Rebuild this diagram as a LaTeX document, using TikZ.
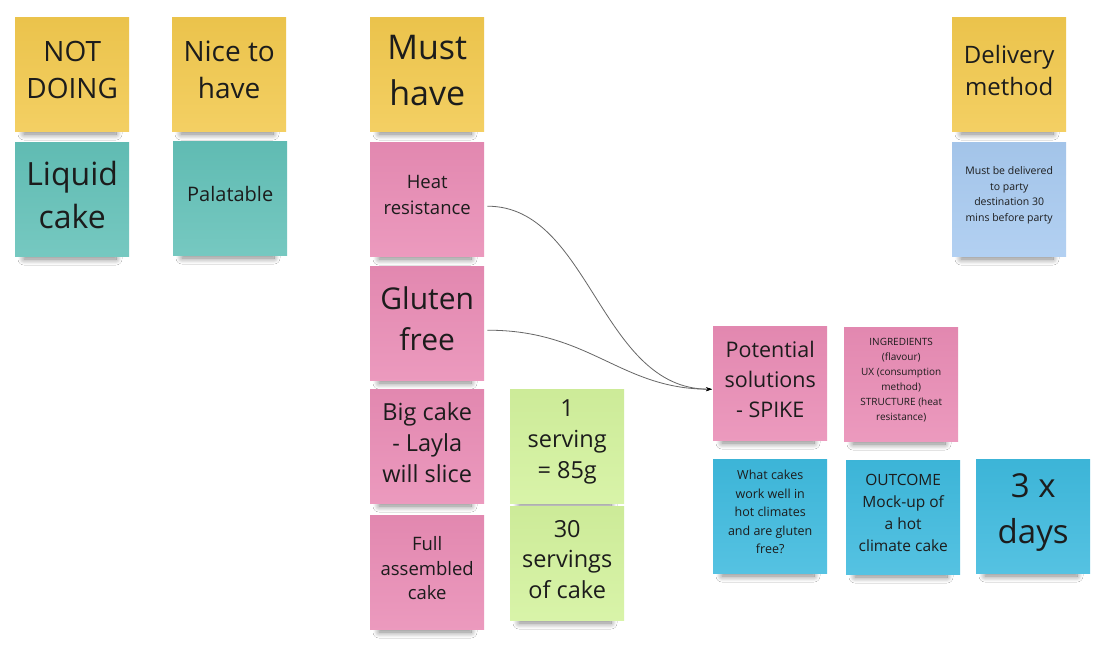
\documentclass[tikz,border=0pt]{standalone}
\usepackage{fontspec}
\setmainfont{Open Sans}
\usetikzlibrary{shadows.blur,arrows.meta}
\definecolor{nyellow}{HTML}{F2C94E}
\definecolor{nteal}{HTML}{63C1B8}
\definecolor{npink}{HTML}{E98CB5}
\definecolor{ngreen}{HTML}{D3F29D}
\definecolor{nblue}{HTML}{A8CAF0}
\definecolor{ncyan}{HTML}{3EBADE}
\definecolor{ntext}{HTML}{1C1C1C}
\tikzset{
  card/.style={anchor=north west, minimum width=114pt, minimum height=114pt, inner sep=0pt, draw=none},
  shadowbox/.style={minimum width=92pt, minimum height=6pt, inner sep=0pt, draw=none,
    blur shadow={shadow xshift=0pt, shadow yshift=-3pt, shadow blur steps=14, shadow blur radius=6pt, shadow opacity=50}},
  notetext/.style={align=center, text=ntext, inner sep=0pt},
  fs/.style 2 args={font=\fontsize{#1}{#2}\selectfont},
  link/.style={draw=black!60, line width=0.8pt, -{Stealth[length=6pt,width=4pt,black]}}
}
\newcommand\stickynote[6]{%
  \node[shadowbox] (#1-s) at ({#2+55},{#3+111}) {};
  \node[card, top color=#4!97!black, bottom color=#4!88!white] (#1) at (#2,#3) {};
  \node[notetext, fs=#5] (#1-t) at ([yshift=4pt]#1.center) {#6};}
\begin{document}
\begin{tikzpicture}[x=1pt,y=-1pt]
\useasboundingbox[fill=white] (0,0) rectangle (1113,646);
% column 1
\stickynote{notdoing}{15}{17}{nyellow}{{28}{37}}{NOT\\DOING}
\stickynote{liquid}{15}{142}{nteal}{{32}{43}}{Liquid\\cake}
% column 2
\stickynote{nice}{172}{17}{nyellow}{{28}{37}}{Nice to\\have}
\stickynote{palatable}{173}{141}{nteal}{{20}{26}}{Palatable}
% must have
\stickynote{must}{370}{17}{nyellow}{{34}{46}}{Must\\have}
\stickynote{heat}{370}{142}{npink}{{18.5}{26}}{Heat\\resistance}
\stickynote{gluten}{370}{266}{npink}{{30}{41}}{Gluten\\free}
\stickynote{big}{370}{389}{npink}{{23.5}{31}}{Big cake\\- Layla\\will slice}
\stickynote{full}{370}{515}{npink}{{18.5}{24.5}}{Full\\assembled\\cake}
\stickynote{serving}{510}{389}{ngreen}{{23.5}{31}}{1\\serving\\= 85g}
\stickynote{thirty}{510}{506}{ngreen}{{23.5}{30.5}}{30\\servings\\of cake}
% delivery
\stickynote{delivery}{952}{17}{nyellow}{{24}{32}}{Delivery\\method}
\stickynote{deliver}{952}{142}{nblue}{{10.5}{15.5}}{Must be delivered\\to party\\destination 30\\mins before party}
% spike
\stickynote{spike}{713}{326}{npink}{{21.5}{30}}{Potential\\solutions\\- SPIKE}
\stickynote{ingr}{844}{327}{npink}{{10}{15}}{INGREDIENTS\\(flavour)\\UX (consumption\\method)\\STRUCTURE (heat\\resistance)}
\stickynote{what}{713}{459}{ncyan}{{12.5}{18.5}}{What cakes\\work well in\\hot climates\\and are gluten\\free?}
\stickynote{outcome}{846}{460}{ncyan}{{15.5}{22}}{OUTCOME\\Mock-up of\\a hot\\climate cake}
\stickynote{days}{976}{459}{ncyan}{{33}{46}}{3 x\\days}
% connectors
\coordinate (hs) at ([shift={(3pt,-7pt)}]heat.east);
\coordinate (gs) at ([shift={(3pt,-7pt)}]gluten.east);
\coordinate (se) at ([shift={(-1pt,-6pt)}]spike.west);
\draw[link] (hs) .. controls (590,206) and (600,389) .. (se);
\draw[link] (gs) .. controls (590,330) and (620,389) .. (se);
\end{tikzpicture}
\end{document}
